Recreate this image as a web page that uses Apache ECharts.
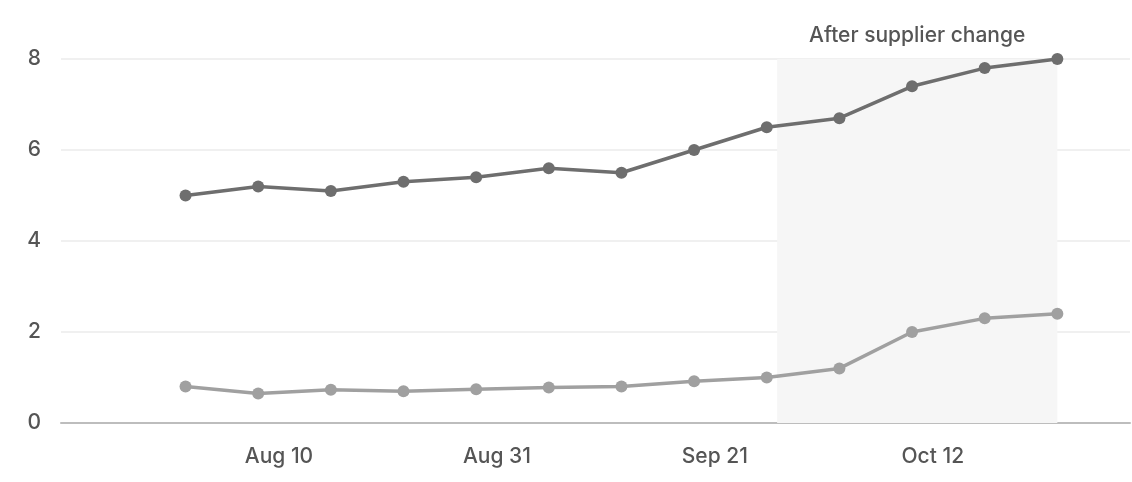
<!DOCTYPE html>
<html>
<head>
<meta charset="utf-8">
<script src="https://cdn.jsdelivr.net/npm/echarts@6/dist/echarts.min.js"></script>
<style>
  html, body { margin: 0; padding: 0; background: #fff; }
  #chart { width: 1132px; height: 482px; }
</style>
</head>
<body>
<div id="chart"></div>
<script>
// weekly readings
const weeks = ['2024-08-01', '2024-08-08', '2024-08-15', '2024-08-22', '2024-08-29', '2024-09-05',
  '2024-09-12', '2024-09-19', '2024-09-26', '2024-10-03', '2024-10-10', '2024-10-17', '2024-10-24']
const upperSeries = [5.0, 5.2, 5.1, 5.3, 5.4, 5.6, 5.5, 6.0, 6.5, 6.7, 7.4, 7.8, 8.0]
const lowerSeries = [0.8, 0.65, 0.73, 0.7, 0.74, 0.78, 0.8, 0.92, 1.0, 1.2, 2.0, 2.3, 2.4]
const yTicks = [0, 2, 4, 6, 8]
// x axis range and shaded period
const axisStart = '2024-07-20'
const axisEnd = '2024-10-31'
const changeFrom = '2024-09-27'
const changeTo = '2024-10-24'
const changeLabel = 'After supplier change'

const months = ['Jan', 'Feb', 'Mar', 'Apr', 'May', 'Jun', 'Jul', 'Aug', 'Sep', 'Oct', 'Nov', 'Dec']
const DAY = 86400000
const t0 = Date.parse(axisStart + 'T00:00:00Z')
// day offset from the axis start
function dayOf(s) {
  return Math.round((Date.parse(s + 'T00:00:00Z') - t0) / DAY)
}
function labelOf(d) {
  const dt = new Date(t0 + d * DAY)
  return months[dt.getUTCMonth()] + ' ' + dt.getUTCDate()
}

const font = 'Inter, "Open Sans", sans-serif'
const myChart = echarts.init(document.getElementById('chart'))
const option = {
  animation: false,
  grid: { left: 61, right: 2, top: 59, bottom: 59 },
  xAxis: {
    type: 'value',
    min: 0,
    max: dayOf(axisEnd),
    interval: 21,
    splitLine: { show: false },
    axisTick: { show: false },
    axisLine: { lineStyle: { color: '#bdbdbd', width: 2 } },
    axisLabel: {
      showMinLabel: false,
      showMaxLabel: false,
      margin: 23,
      color: '#555',
      fontSize: 21,
      fontWeight: 500,
      fontFamily: font,
      formatter: (v) => labelOf(v),
    },
  },
  yAxis: {
    type: 'value',
    min: yTicks[0],
    max: yTicks[yTicks.length - 1],
    interval: 2,
    axisLine: { show: false },
    axisTick: { show: false },
    splitLine: { lineStyle: { color: '#ebebeb', width: 1.5 } },
    axisLabel: { margin: 20, color: '#555', fontSize: 21, fontWeight: 500, fontFamily: font },
  },
  series: [
    {
      type: 'line',
      data: weeks.map((w, i) => [dayOf(w), upperSeries[i]]),
      symbol: 'circle',
      symbolSize: 12,
      itemStyle: { color: '#6e6e6e' },
      lineStyle: { color: '#6e6e6e', width: 3.5 },
      z: 3,
      markArea: {
        silent: true,
        itemStyle: { color: '#f6f6f6' },
        label: {
          show: true,
          position: 'top',
          distance: 13,
          color: '#555',
          fontSize: 21,
          fontWeight: 500,
          fontFamily: font,
        },
        data: [[
          { name: changeLabel, xAxis: dayOf(changeFrom), yAxis: yTicks[yTicks.length - 1] },
          { xAxis: dayOf(changeTo), yAxis: yTicks[0] },
        ]],
      },
    },
    {
      type: 'line',
      data: weeks.map((w, i) => [dayOf(w), lowerSeries[i]]),
      symbol: 'circle',
      symbolSize: 12,
      itemStyle: { color: '#a0a0a0' },
      lineStyle: { color: '#a0a0a0', width: 3.5 },
      z: 2,
    },
  ],
}
myChart.setOption(option, true)
</script>
</body>
</html>
